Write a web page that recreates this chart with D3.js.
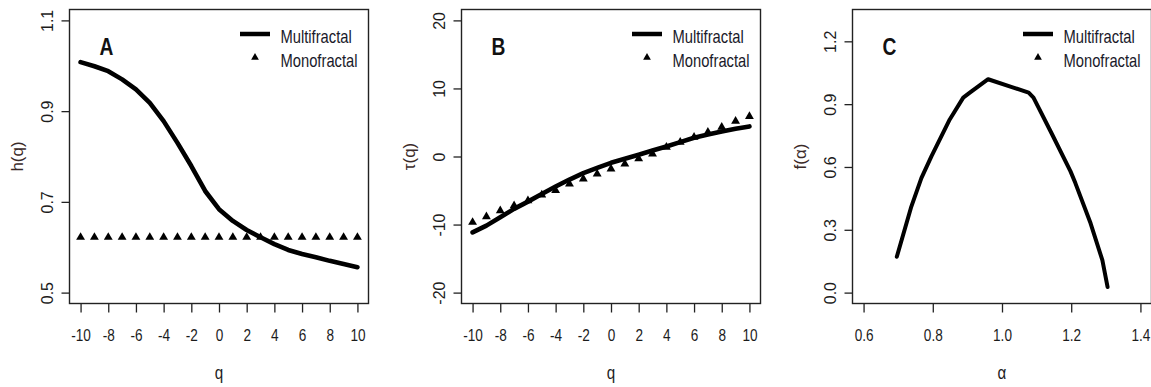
<!DOCTYPE html>
<html><head><meta charset="utf-8">
<script src="https://cdn.jsdelivr.net/npm/d3@7"></script>
<style>
html,body{margin:0;padding:0;background:#fff;}
svg{display:block;}
</style></head>
<body>
<svg id="chart" width="1151" height="387"></svg>
<script>
// ---- data ----
const qValues = [-10,-9,-8,-7,-6,-5,-4,-3,-2,-1,0,1,2,3,4,5,6,7,8,9,10];
const hMulti = [1.008,0.999,0.988,0.970,0.948,0.918,0.878,0.830,0.779,0.724,0.684,0.658,0.638,0.622,0.607,0.594,0.585,0.578,0.570,0.563,0.556];
const hMono  = [0.622,0.622,0.622,0.622,0.622,0.622,0.622,0.622,0.622,0.622,0.622,0.622,0.622,0.622,0.622,0.622,0.622,0.622,0.622,0.622,0.622];
const tauMulti = [-11.15,-10.16,-8.94,-7.70,-6.63,-5.50,-4.42,-3.39,-2.45,-1.67,-0.93,-0.34,0.25,0.88,1.47,2.11,2.75,3.24,3.68,4.08,4.42];
const tauMono  = [-9.67,-8.84,-7.95,-7.22,-6.48,-5.65,-5.00,-4.03,-3.29,-2.55,-1.82,-1.08,-0.34,0.39,1.37,2.11,2.85,3.58,4.32,5.20,5.89];
const alphaValues = [0.696,0.738,0.767,0.796,0.849,0.888,0.907,0.960,1.033,1.077,1.091,1.145,1.198,1.212,1.256,1.290,1.305];
const fAlpha      = [0.171,0.411,0.547,0.651,0.827,0.931,0.955,1.019,0.979,0.955,0.931,0.755,0.579,0.523,0.331,0.155,0.027];

const qTicks = [-10,-8,-6,-4,-2,0,2,4,6,8,10];
const hTicks = [0.5,0.7,0.9,1.1];
const tauTicks = [-20,-10,0,10,20];
const fTicks = [0.0,0.3,0.6,0.9,1.2];
const alphaTicks = [0.6,0.8,1.0,1.2,1.4];
const legendLabels = ["Multifractal","Monofractal"];

// ---- layout ----
const svg = d3.select("#chart");
const TOP = 9.5, BOTTOM = 303.5, PW = 299;
const FONT = "'Liberation Sans',Arial,sans-serif";
const INK = "#1c1c1c";
const SX = 0.8; // horizontal condensing of upright text
const hy = v => String(v).replace("\u2212", "-");

const panels = [
  {left:69.5, letter:"A", xDom:[-10.8,10.8], yDom:[0.476,1.124], xTicks:qTicks, yTicks:hTicks,
   xFmt:v=>hy(d3.format("d")(v)), yFmt:v=>hy(d3.format(".1f")(v)), xTitle:"q", yTitle:"h(q)",
   line:qValues.map((q,i)=>[q,hMulti[i]]), pts:qValues.map((q,i)=>[q,hMono[i]]), lw:4.6},
  {left:461.5, letter:"B", xDom:[-10.8,10.8], yDom:[-21.6,21.6], xTicks:qTicks, yTicks:tauTicks,
   xFmt:v=>hy(d3.format("d")(v)), yFmt:v=>hy(d3.format("d")(v)), xTitle:"q", yTitle:"\u03C4(q)",
   line:qValues.map((q,i)=>[q,tauMulti[i]]), pts:qValues.map((q,i)=>[q,tauMono[i]]), lw:4.6},
  {left:852.5, letter:"C", xDom:[0.568,1.432], yDom:[-0.052,1.352], xTicks:alphaTicks, yTicks:fTicks,
   xFmt:v=>hy(d3.format(".1f")(v)), yFmt:v=>hy(d3.format(".1f")(v)), xTitle:"\u03B1", yTitle:"f(\u03B1)",
   line:alphaValues.map((a,i)=>[a,fAlpha[i]]), pts:[], lw:4}
];

panels.forEach(p => {
  const right = p.left + PW;
  const x = d3.scaleLinear().domain(p.xDom).range([p.left, right]);
  const y = d3.scaleLinear().domain(p.yDom).range([BOTTOM, TOP]);
  const g = svg.append("g");

  // x axis
  const xa = g.append("g").attr("transform", `translate(0,${BOTTOM})`)
    .call(d3.axisBottom(x).tickValues(p.xTicks).tickFormat(p.xFmt).tickSize(9).tickPadding(0));
  xa.select(".domain").remove();
  xa.selectAll(".tick line").attr("stroke", "#222").attr("stroke-width", 1.3);
  xa.selectAll(".tick text").attr("y", null).attr("dy", null)
    .attr("transform", `translate(0,37.5) scale(${SX},1)`)
    .attr("font-family", FONT).attr("font-size", 17).attr("fill", INK);

  // y axis
  const ya = g.append("g").attr("transform", `translate(${p.left},0)`)
    .call(d3.axisLeft(y).tickValues(p.yTicks).tickFormat(p.yFmt).tickSize(8).tickPadding(0));
  ya.select(".domain").remove();
  ya.selectAll(".tick line").attr("stroke", "#222").attr("stroke-width", 1.3);
  ya.selectAll(".tick text").attr("x", null).attr("dy", null).attr("text-anchor", "middle")
    .attr("transform", "translate(-22.5,0) rotate(-90) translate(0,5.6)")
    .attr("font-family", FONT).attr("font-size", 16).attr("fill", INK);

  // box
  g.append("rect").attr("x", p.left).attr("y", TOP).attr("width", PW).attr("height", BOTTOM - TOP)
    .attr("fill", "none").attr("stroke", "#222").attr("stroke-width", 1.4);

  // titles
  g.append("text").attr("text-anchor", "middle")
    .attr("transform", `translate(${p.left + PW/2},379) scale(${SX},1)`)
    .attr("font-family", FONT).attr("font-size", 19).attr("fill", INK).text(p.xTitle);
  g.append("text").attr("text-anchor", "middle")
    .attr("transform", `translate(${p.left - 53},${(TOP+BOTTOM)/2}) rotate(-90) translate(0,6)`)
    .attr("font-family", FONT).attr("font-size", 17).attr("fill", "#3a2a28").text(p.yTitle);

  // panel letter
  g.append("text").attr("text-anchor", "middle")
    .attr("transform", `translate(${p.left + 37},55) scale(${SX},1)`)
    .attr("font-family", FONT).attr("font-weight", "bold").attr("font-size", 24).attr("fill", "#111")
    .text(p.letter);

  // data
  const clip = "clip" + p.letter;
  svg.append("clipPath").attr("id", clip).append("rect")
    .attr("x", p.left).attr("y", TOP).attr("width", PW).attr("height", BOTTOM - TOP);
  const dg = g.append("g").attr("clip-path", `url(#${clip})`);
  dg.selectAll("path.tri").data(p.pts).join("path").attr("class", "tri")
    .attr("d", d3.symbol(d3.symbolTriangle, 34))
    .attr("transform", d => `translate(${x(d[0])},${y(d[1])})`).attr("fill", "#000");
  dg.append("path").datum(p.line)
    .attr("d", d3.line().x(d => x(d[0])).y(d => y(d[1])))
    .attr("fill", "none").attr("stroke", "#000").attr("stroke-width", p.lw)
    .attr("stroke-linejoin", "round").attr("stroke-linecap", "round");

  // legend
  g.append("line").attr("x1", right - 128.5).attr("x2", right - 98.5).attr("y1", 34).attr("y2", 34)
    .attr("stroke", "#000").attr("stroke-width", 4.5);
  g.append("path").attr("d", d3.symbol(d3.symbolTriangle, 26))
    .attr("transform", `translate(${right - 113.5},57.5)`).attr("fill", "#000");
  g.selectAll("text.leg").data(legendLabels).join("text").attr("class", "leg")
    .attr("transform", (d, i) => `translate(${right - 88},${43 + i * 24}) scale(0.82,1)`)
    .attr("font-family", FONT).attr("font-size", 18).attr("fill", "#1a1a2a").text(d => d);
});
</script>
</body></html>
